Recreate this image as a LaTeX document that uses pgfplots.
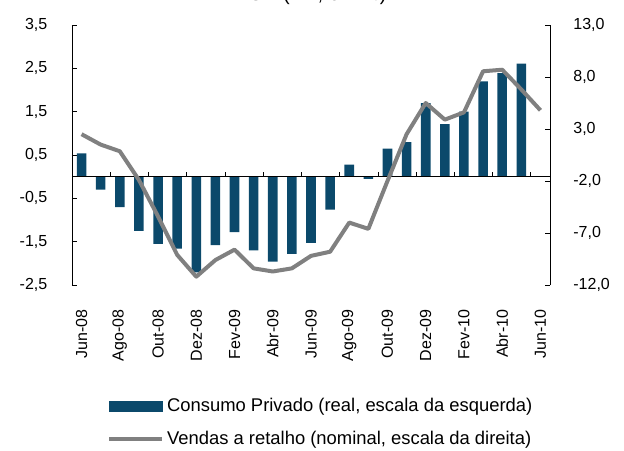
\documentclass[border=0pt]{standalone}
\usepackage{pgfplots}
\pgfplotsset{compat=1.18}
\usepackage{fontspec}
\setmainfont{Liberation Sans}
\definecolor{barblue}{RGB}{11,73,107}
\definecolor{linegray}{RGB}{128,128,128}
\begin{document}
\begin{tikzpicture}
\pgfplotsset{
  common/.style={
    width=358.5pt, height=195pt, scale only axis,
    xmin=-0.5, xmax=24.5,
    tick align=inside, major tick length=4pt,
    every tick/.style={black, line width=0.6pt},
    axis line style={-, black, line width=0.6pt},
    ticklabel style={font=\fontsize{12}{14}\selectfont},
    clip=false,
  }
}
\begin{axis}[common,
  ymin=-2.5, ymax=3.5,
  axis y line*=left, axis x line*=bottom,
  x axis line style={draw=none},
  xtick={0,2,...,24},
  xticklabels={Jun-08,Ago-08,Out-08,Dez-08,Fev-09,Abr-09,Jun-09,Ago-09,Out-09,Dez-09,Fev-10,Abr-10,Jun-10},
  xticklabel style={yshift=-15pt, rotate=90, anchor=east},
  major x tick style={draw=none},
  ytick={-2.5,-1.5,...,3.5},
  yticklabel style={anchor=east, xshift=-15pt, /pgf/number format/.cd, fixed, fixed zerofill, precision=1, use comma, assume math mode=true},
]
\addplot[ybar, bar width=0.5, fill=barblue, draw=none] coordinates {
(0,0.54) (1,-0.30) (2,-0.70) (3,-1.25) (4,-1.55) (5,-1.66) (6,-2.21) (7,-1.58) (8,-1.28) (9,-1.70) (10,-1.96) (11,-1.78) (12,-1.53) (13,-0.76) (14,0.28) (15,-0.05) (16,0.65) (17,0.80) (18,1.70) (19,1.21) (20,1.50) (21,2.20) (22,2.39) (23,2.61)
};
\draw[black, line width=0.6pt] (axis cs:-0.5,0) -- (axis cs:24.5,0);
\foreach \t in {1.5,3.5,5.5,7.5,9.5,11.5,13.5,15.5,17.5,19.5,21.5,23.5}{\edef\tmp{\noexpand\draw[black, line width=0.6pt] (axis cs:\t,0) -- ([yshift=3.5pt]axis cs:\t,0);}\tmp}
\end{axis}
\begin{axis}[common,
  ymin=-12, ymax=13,
  axis y line*=right, axis x line=none,
  ytick={-12,-7,...,13},
  yticklabel style={anchor=west, xshift=14pt, /pgf/number format/.cd, fixed, fixed zerofill, precision=1, use comma, assume math mode=true},
  title={\textbf{EUA} (VH, em \%)},
  title style={at={(0.5,1)}, anchor=base, yshift=12pt, font=\fontsize{15}{17}\selectfont},
  legend style={at={(rel axis cs:0.073,-0.425)}, anchor=north west, draw=none, fill=none, inner sep=0pt,
    font=\fontsize{13.8}{16}\selectfont, row sep=9pt, /tikz/every even column/.append style={column sep=0pt}},
  legend cell align=left,
]
\addlegendimage{legend image code/.code={\fill[barblue] (0pt,-4pt) rectangle (40pt,4pt);}}
\addlegendentry{Consumo Privado (real, escala da esquerda)}
\addplot[linegray, line width=3pt, line join=round, legend image code/.code={\draw[linegray, line width=3pt] (0pt,0pt) -- (40pt,0pt);}] coordinates {
(0,2.5) (1,1.5) (2,0.86) (3,-1.9) (4,-5.4) (5,-9.1) (6,-11.2) (7,-9.6) (8,-8.6) (9,-10.4) (10,-10.7) (11,-10.4) (12,-9.2) (13,-8.8) (14,-6.0) (15,-6.6) (16,-2.0) (17,2.5) (18,5.5) (19,3.9) (20,4.6) (21,8.55) (22,8.7) (23,6.8) (24,4.8)
};
\addlegendentry{Vendas a retalho (nominal, escala da direita)}
\coordinate (ll) at (rel axis cs:0,0);
\coordinate (ur) at (rel axis cs:1,1);
\end{axis}
\pgfresetboundingbox
\useasboundingbox ([xshift=-54pt,yshift=-123.75pt]ll) rectangle ([xshift=55.5pt,yshift=18.75pt]ur);
\end{tikzpicture}
\end{document}
